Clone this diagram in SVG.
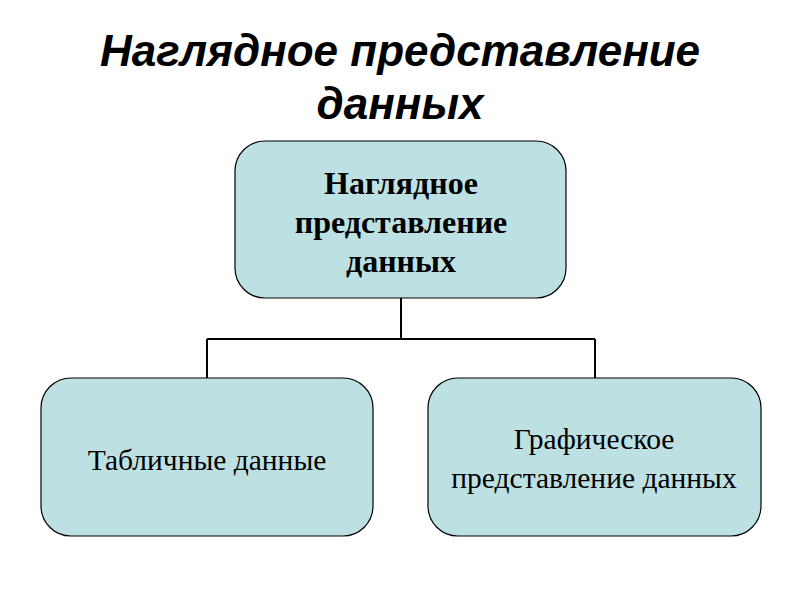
<svg xmlns="http://www.w3.org/2000/svg" width="800" height="600" viewBox="0 0 800 600">
<style>
.box{fill:#bde0e3;stroke:#000;stroke-width:1.2}
.conn{fill:none;stroke:#000;stroke-width:2}
.title{font-family:"Liberation Sans",Arial,sans-serif;font-weight:bold;font-style:italic;font-size:44px;text-anchor:middle;fill:#000}
.hb{font-family:"Liberation Serif","Times New Roman",serif;font-weight:bold;font-size:32px;text-anchor:middle;fill:#000}
.lb{font-family:"Liberation Serif","Times New Roman",serif;font-size:29.5px;text-anchor:middle;fill:#000}
</style>
<rect width="800" height="600" fill="#fff"/>
<g id="title">
<text class="title" x="400" y="66">Наглядное представление</text>
<text class="title" x="400" y="119">данных</text>
</g>
<g id="connectors">
<path class="conn" d="M401 298 V339 M207 339 H595 M207 339 V378 M595 339 V378"/>
</g>
<g id="root">
<rect class="box" x="235" y="141" width="331" height="157" rx="30"/>
<text class="hb" x="401" y="194">Наглядное</text>
<text class="hb" x="401" y="233">представление</text>
<text class="hb" x="401" y="272">данных</text>
</g>
<g id="tables">
<rect class="box" x="41" y="378" width="332" height="158" rx="30"/>
<text class="lb" x="207" y="470">Табличные данные</text>
</g>
<g id="graphics">
<rect class="box" x="428" y="378" width="333" height="158" rx="30"/>
<text class="lb" x="594" y="449">Графическое</text>
<text class="lb" x="594" y="488">представление данных</text>
</g>
</svg>
